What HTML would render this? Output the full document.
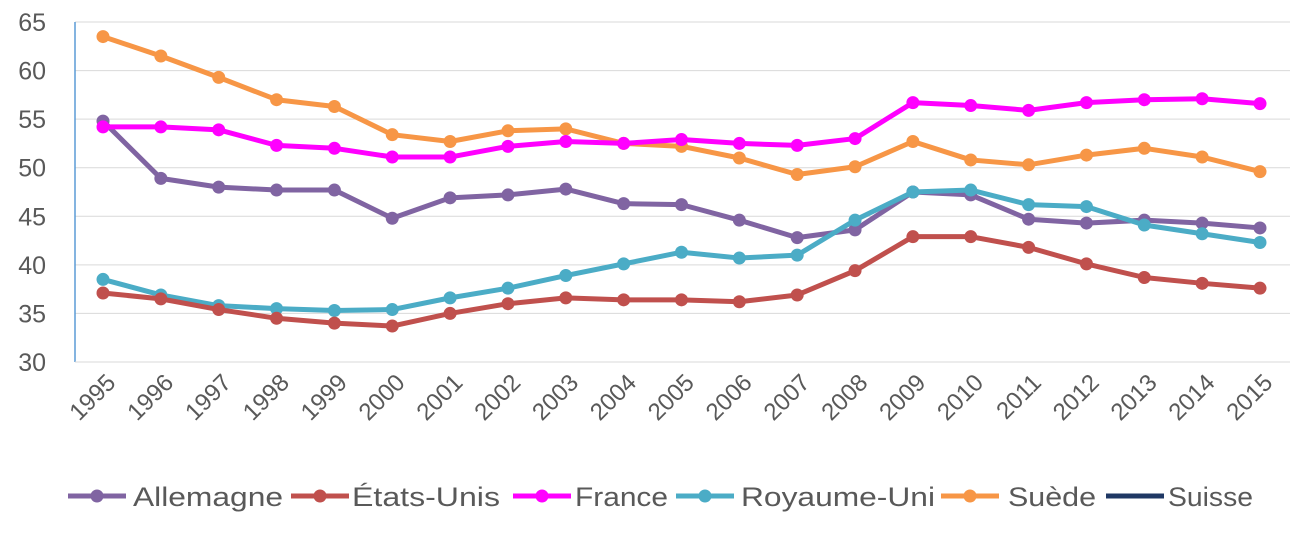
<!DOCTYPE html>
<html><head><meta charset="utf-8"><style>
body{margin:0;background:#fff;}
svg text{font-family:"Liberation Sans",sans-serif;fill:#595959;}
</style></head><body>
<svg id="c" width="1301" height="538" xmlns="http://www.w3.org/2000/svg"></svg>
<script>
const years=[1995,1996,1997,1998,1999,2000,2001,2002,2003,2004,2005,2006,2007,2008,2009,2010,2011,2012,2013,2014,2015];
const yTicks=[30,35,40,45,50,55,60,65];
const allemagne=[54.8,48.9,48.0,47.7,47.7,44.8,46.9,47.2,47.8,46.3,46.2,44.6,42.8,43.6,47.5,47.2,44.7,44.3,44.6,44.3,43.8];
const etatsUnis=[37.1,36.5,35.4,34.5,34.0,33.7,35.0,36.0,36.6,36.4,36.4,36.2,36.9,39.4,42.9,42.9,41.8,40.1,38.7,38.1,37.6];
const france=[54.2,54.2,53.9,52.3,52.0,51.1,51.1,52.2,52.7,52.5,52.9,52.5,52.3,53.0,56.7,56.4,55.9,56.7,57.0,57.1,56.6];
const royaumeUni=[38.5,36.9,35.8,35.5,35.3,35.4,36.6,37.6,38.9,40.1,41.3,40.7,41.0,44.6,47.5,47.7,46.2,46.0,44.1,43.2,42.3];
const suede=[63.5,61.5,59.3,57.0,56.3,53.4,52.7,53.8,54.0,52.5,52.2,51.0,49.3,50.1,52.7,50.8,50.3,51.3,52.0,51.1,49.6];
const suisse=[];
const seriesNames=["Allemagne","États-Unis","France","Royaume-Uni","Suède","Suisse"];
const svg=document.getElementById('c');
const NS="http://www.w3.org/2000/svg";
function yS(v){return 362-(v-30)*340/35;}
function xS(i){return 103+i*(1260-103)/20;}
function mk(t,a){const e=document.createElementNS(NS,t);for(const k in a)e.setAttribute(k,a[k]);svg.appendChild(e);return e;}
yTicks.forEach(t=>{
  if(t>30){const g=mk('line',{x1:75,x2:1290,y1:yS(t),y2:yS(t),stroke:'#d9d9d9','stroke-width':1});
  
  }
  const l=mk('text',{x:46,y:yS(t)+9,'font-size':25,'text-anchor':'end'});l.textContent=t;
  
  
});
const ax=mk('line',{x1:75,x2:75,y1:22,y2:362,stroke:'#5b9bd5','stroke-width':1.5});


const bx=mk('line',{x1:75,x2:1290,y1:362,y2:362,stroke:'#d9d9d9','stroke-width':1});


years.forEach((y,i)=>{
  const x=xS(i)+14,yy=384;
  const t=mk('text',{x:x,y:yy,'font-size':24,'text-anchor':'end',transform:`rotate(-45 ${x} ${yy})`});t.textContent=y;
  
  
});
const all=[allemagne,etatsUnis,france,royaumeUni,suede,suisse];
const colors=['#8064A2','#C0504D','#FF00FF','#4BACC6','#F79646','#1F3864'];
const order=[4,0,3,1,2,5];
order.forEach(s=>{
  const d=all[s];if(!d.length)return;
  const p=mk('polyline',{points:d.map((v,i)=>xS(i)+','+yS(v)).join(' '),fill:'none',stroke:colors[s],'stroke-width':5,'stroke-linejoin':'round'});
  
  
  d.forEach((v,i)=>{const c=mk('circle',{cx:xS(i),cy:yS(v),r:6.5,fill:colors[s]});
    
    });
});
const lx=[68,291,513,676,941,1106];
const tx=[133,352,575,741,1008,1168];
const tw=[150,148,93,194,88,85];
seriesNames.forEach((n,s)=>{
  const x=lx[s],y=496;
  const l=mk('line',{x1:x,x2:x+58,y1:y,y2:y,stroke:colors[s],'stroke-width':5});
  
  
  if(s<5){const c=mk('circle',{cx:x+29,cy:y,r:6.5,fill:colors[s]});
  
  }
  const t=mk('text',{x:tx[s],y:y+10,'font-size':27,textLength:tw[s],lengthAdjust:'spacingAndGlyphs'});t.textContent=n;
  
  
});
</script>
</body></html>
